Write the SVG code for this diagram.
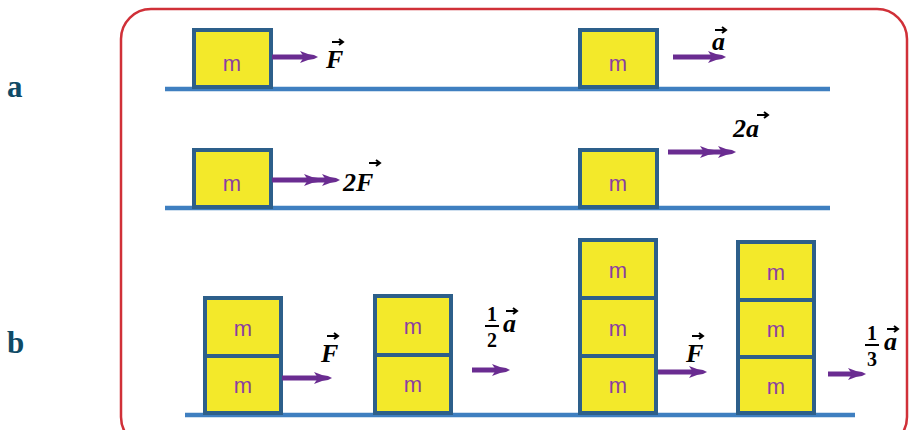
<svg xmlns="http://www.w3.org/2000/svg" width="910" height="430" viewBox="0 0 910 430">
<style>
.box{fill:#f3e92a;stroke:#2d5f8a;stroke-width:4}
.m{font-family:"Liberation Sans",Arial,sans-serif;font-size:22px;fill:#8b3fa0;text-anchor:middle}
.ground{stroke:#3f7fc0;stroke-width:4.5}
.shaft{stroke:#6a2c91;stroke-width:5}
.lbl{font-family:"Liberation Serif","Times New Roman",serif;font-size:26px;font-weight:bold;font-style:italic;fill:#000}
.num{font-family:"Liberation Serif","Times New Roman",serif;font-size:20px;font-weight:bold;fill:#000;text-anchor:middle}
.vec{stroke:#000;stroke-width:2;fill:none}
.side{font-family:"Liberation Serif","Times New Roman",serif;font-size:31px;font-weight:bold;fill:#0f4a66}
</style>
<defs>
<path id="head" d="M-18,-6 L-10,-3 L-4,-2 L0,0 L-4,2 L-10,3 L-18,6 L-14,0 Z" fill="#6a2c91"/>
<path id="vhead" d="M-4,-3 L0,0 L-4,3" fill="none" stroke="#000" stroke-width="2"/>
</defs>
<rect x="121" y="9" width="786" height="438" rx="30" fill="none" stroke="#d03038" stroke-width="2.5"/>
<text class="side" x="7" y="97">a</text>
<text class="side" x="7" y="353">b</text>
<g id="grounds">
<line class="ground" x1="165" y1="89" x2="830" y2="89"/>
<line class="ground" x1="165" y1="208" x2="830" y2="208"/>
<line class="ground" x1="185" y1="415" x2="855" y2="415"/>
</g>
<g id="r1left">
<rect class="box" x="194" y="30" width="77" height="57"/>
<text class="m" x="232" y="71">m</text>
</g>
<g id="r1right">
<rect class="box" x="580" y="30" width="77" height="57"/>
<text class="m" x="618" y="71">m</text>
</g>
<g id="r2left">
<rect class="box" x="194" y="150" width="77" height="57"/>
<text class="m" x="232" y="191">m</text>
</g>
<g id="r2right">
<rect class="box" x="580" y="150" width="77" height="57"/>
<text class="m" x="618" y="191">m</text>
</g>
<g id="stack1">
<rect class="box" x="205" y="298" width="76" height="58"/>
<rect class="box" x="205" y="356" width="76" height="57"/>
<text class="m" x="243" y="336">m</text>
<text class="m" x="243" y="393">m</text>
</g>
<g id="stack2">
<rect class="box" x="375" y="296" width="76" height="59"/>
<rect class="box" x="375" y="355" width="76" height="58"/>
<text class="m" x="413" y="334">m</text>
<text class="m" x="413" y="392">m</text>
</g>
<g id="stack3">
<rect class="box" x="580" y="240" width="76" height="58"/>
<rect class="box" x="580" y="298" width="76" height="58"/>
<rect class="box" x="580" y="356" width="76" height="57"/>
<text class="m" x="618" y="278">m</text>
<text class="m" x="618" y="336">m</text>
<text class="m" x="618" y="393">m</text>
</g>
<g id="stack4">
<rect class="box" x="738" y="242" width="76" height="58"/>
<rect class="box" x="738" y="300" width="76" height="57"/>
<rect class="box" x="738" y="357" width="76" height="56"/>
<text class="m" x="776" y="280">m</text>
<text class="m" x="776" y="337">m</text>
<text class="m" x="776" y="394">m</text>
</g>
<g id="connectors">
<line class="shaft" x1="272" y1="57" x2="306" y2="57"/><use href="#head" x="318" y="57"/>
<line class="shaft" x1="673" y1="57" x2="712" y2="57"/><use href="#head" x="726" y="57"/>
<line class="shaft" x1="272" y1="180" x2="330" y2="180"/><use href="#head" x="322" y="180"/><use href="#head" x="340" y="180"/>
<line class="shaft" x1="668" y1="152" x2="724" y2="152"/><use href="#head" x="718" y="152"/><use href="#head" x="736" y="152"/>
<line class="shaft" x1="282" y1="378" x2="320" y2="378"/><use href="#head" x="332" y="378"/>
<line class="shaft" x1="472" y1="370" x2="498" y2="370"/><use href="#head" x="510" y="370"/>
<line class="shaft" x1="658" y1="372" x2="695" y2="372"/><use href="#head" x="707" y="372"/>
<line class="shaft" x1="828" y1="374" x2="854" y2="374"/><use href="#head" x="866" y="374"/>
</g>
<g id="labels">
<text class="lbl" x="326" y="68">F</text>
<line class="vec" x1="332" y1="42" x2="343" y2="42"/><use href="#vhead" x="343" y="42"/>
<text class="lbl" x="712" y="50">a</text>
<line class="vec" x1="715" y1="30" x2="726" y2="30"/><use href="#vhead" x="726" y="30"/>
<text class="lbl" x="343" y="191">2F</text>
<line class="vec" x1="369" y1="163" x2="380" y2="163"/><use href="#vhead" x="380" y="163"/>
<text class="lbl" x="733" y="137">2a</text>
<line class="vec" x1="757" y1="115" x2="768" y2="115"/><use href="#vhead" x="768" y="115"/>
<text class="lbl" x="321" y="362">F</text>
<line class="vec" x1="327" y1="336" x2="338" y2="336"/><use href="#vhead" x="338" y="336"/>
<text class="num" x="492" y="321">1</text>
<line x1="485" y1="326" x2="499" y2="326" stroke="#000" stroke-width="2"/>
<text class="num" x="492" y="347">2</text>
<text class="lbl" x="503" y="332">a</text>
<line class="vec" x1="506" y1="311" x2="517" y2="311"/><use href="#vhead" x="517" y="311"/>
<text class="lbl" x="686" y="362">F</text>
<line class="vec" x1="692" y1="336" x2="703" y2="336"/><use href="#vhead" x="703" y="336"/>
<text class="num" x="872" y="340">1</text>
<line x1="865" y1="345" x2="879" y2="345" stroke="#000" stroke-width="2"/>
<text class="num" x="872" y="366">3</text>
<text class="lbl" x="884" y="350">a</text>
<line class="vec" x1="887" y1="329" x2="898" y2="329"/><use href="#vhead" x="898" y="329"/>
</g>
</svg>
